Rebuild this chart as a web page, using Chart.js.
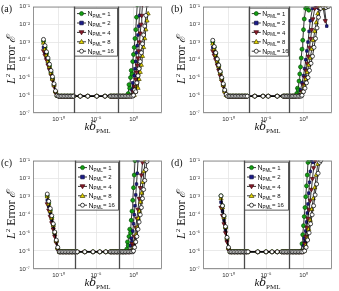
<!DOCTYPE html>
<html>
<head>
<meta charset="utf-8">
<script src="https://cdn.jsdelivr.net/npm/chart.js@4/dist/chart.umd.min.js"></script>
<style>
  body { margin: 0; background: #fff; }
  #wrap { position: relative; width: 339px; height: 291px; }
  canvas { position: absolute; }
</style>
</head>
<body>
<div id="wrap">
  <canvas id="ca" width="170" height="137" style="left:0;top:0"></canvas>
  <canvas id="cb" width="169" height="137" style="left:170px;top:0"></canvas>
  <canvas id="cc" width="170" height="137" style="left:0;top:154px"></canvas>
  <canvas id="cd" width="169" height="137" style="left:170px;top:154px"></canvas>
</div>
<script>
// axes (values are log10 exponents)
const xRangeExp = [-13.4, 3.8];
const yRangeExp = [-7, -1];
const xTickExp = [-10, -5, 0];
const yTickExp = [-7, -6, -5, -4, -3, -2, -1];

// legend / series
const seriesN = ["1", "2", "4", "8", "16"];

// ---- panel (a) ---- (log10 kδ, log10 error), series order N = 1,2,4,8,16
const a_leftX = [-12.0, -11.8, -11.6, -11.4, -11.2, -11.0, -10.8, -10.6, -10.4];
const a_leftY = [
  [-2.95, -3.3, -3.65, -4.0, -4.35, -4.7, -5.05, -5.4, -5.8],
  [-3.3, -3.6, -3.9, -4.2, -4.5, -4.8, -5.1, -5.45, -5.8],
  [-3.5, -3.75, -4.0, -4.3, -4.55, -4.85, -5.15, -5.5, -5.85],
  [-3.05, -3.4, -3.75, -4.1, -4.4, -4.75, -5.1, -5.45, -5.8],
  [-2.85, -3.2, -3.55, -3.9, -4.25, -4.6, -4.95, -5.35, -5.75]
];
const a_plateauX = [-10.2, -10.0, -9.8, -9.6, -9.4, -9.2, -9.0, -8.8,
  -8.6, -8.4, -8.2, -8.0, -7.1, -6.1, -4.9, -3.8,
  -3.1, -2.9, -2.7, -2.5, -2.3, -2.1, -1.9, -1.7,
  -1.5, -1.3, -1.1, -0.9, -0.7, -0.5, -0.3, -0.1];
const a_plateauY = [-6.02, -6.05, -6.05, -6.05, -6.05, -6.05, -6.05, -6.05,
  -6.05, -6.05, -6.05, -6.05, -6.05, -6.05, -6.05, -6.05,
  -6.05, -6.05, -6.05, -6.05, -6.05, -6.05, -6.05, -6.05,
  -6.05, -6.05, -6.05, -6.05, -6.05, -6.05, -6.05, -6.05];
const a_rightX = [
  [-0.7, -0.6, -0.5, -0.4, -0.3, -0.2, -0.1, 0.0, 0.1, 0.2, 0.3, 0.4, 0.5],
  [-0.3, -0.2, -0.1, 0.0, 0.1, 0.2, 0.3, 0.4, 0.5, 0.6, 0.7, 0.8, 0.9],
  [-0.1, 0.0, 0.1, 0.2, 0.3, 0.4, 0.5, 0.6, 0.7, 0.8, 0.9, 1.0, 1.1, 1.2],
  [0.1, 0.3, 0.45, 0.6, 0.75, 0.9, 1.05, 1.2, 1.35, 1.5, 1.65, 1.8, 1.95],
  [0.0, 0.15, 0.3, 0.45, 0.6, 0.75, 0.9, 1.05, 1.2, 1.35, 1.5, 1.65, 1.8]
];
const a_rightY = [
  [-5.9, -5.4, -5.6, -5.0, -4.6, -4.8, -4.1, -3.7, -3.3, -2.8, -2.3, -1.6, -0.9],
  [-6.0, -5.7, -5.3, -5.5, -4.9, -4.5, -4.1, -3.6, -3.2, -2.6, -2.1, -1.5, -0.9],
  [-6.0, -5.8, -5.5, -5.6, -5.1, -4.7, -4.3, -3.9, -3.5, -3.0, -2.5, -2.0, -1.5, -0.9],
  [-6.0, -5.8, -5.5, -5.6, -5.1, -4.7, -4.3, -3.8, -3.3, -2.8, -2.3, -1.8, -1.4],
  [-6.0, -5.7, -5.8, -5.3, -4.9, -4.5, -4.1, -3.6, -3.1, -2.6, -2.1, -1.5, -0.9]
];
const a_vlines = [-7.93, -2.07];

// ---- panel (b) ----
const b_leftX = [-12.1, -11.9, -11.7, -11.5, -11.3, -11.1, -10.9, -10.7, -10.5, -10.3];
const b_leftY = [
  [-3.0, -3.3, -3.65, -4.0, -4.35, -4.7, -5.05, -5.4, -5.75, -5.98],
  [-3.3, -3.55, -3.85, -4.15, -4.5, -4.8, -5.1, -5.45, -5.8, -6.0],
  [-3.5, -3.75, -4.0, -4.3, -4.6, -4.9, -5.2, -5.5, -5.85, -6.0],
  [-3.1, -3.4, -3.75, -4.1, -4.4, -4.75, -5.1, -5.45, -5.8, -6.0],
  [-2.9, -3.25, -3.6, -3.95, -4.3, -4.65, -5.0, -5.35, -5.7, -5.95]
];
const b_plateauX = [-10.1, -9.9, -9.7, -9.5, -9.3, -9.1, -8.9, -8.7,
  -8.5, -8.3, -8.1, -7.9, -7.7, -7.5, -6.5, -5.4,
  -4.7, -3.5, -2.7, -2.5, -2.3, -2.1, -1.9, -1.7,
  -1.5, -1.3, -1.1, -0.9, -0.7, -0.5, -0.3, -0.1];
const b_plateauY = [-6.05, -6.05, -6.05, -6.05, -6.05, -6.05, -6.05, -6.05,
  -6.05, -6.05, -6.05, -6.05, -6.05, -6.05, -6.05, -6.05,
  -6.05, -6.05, -6.05, -6.05, -6.05, -6.05, -6.05, -6.05,
  -6.05, -6.05, -6.05, -6.05, -6.05, -6.05, -6.05, -6.05];
const b_rightX = [
  [-0.9, -0.8, -0.7, -0.6, -0.5, -0.4, -0.3, -0.2, -0.1, 0.0, 0.1, 0.3, 0.5, 0.7],
  [-0.6, -0.4, -0.2, 0.0, 0.15, 0.3, 0.45, 0.6, 0.75, 0.9, 1.2, 1.6, 2.0, 2.4, 2.8, 3.1],
  [-0.4, -0.2, 0.0, 0.2, 0.35, 0.5, 0.65, 0.8, 0.95, 1.1, 1.25, 1.5, 1.8, 2.2, 2.6, 2.9],
  [-0.3, -0.1, 0.1, 0.3, 0.5, 0.7, 0.9, 1.1, 1.3, 1.5, 1.7, 1.9, 2.2, 2.6, 3.0],
  [-0.2, 0.0, 0.2, 0.4, 0.6, 0.8, 1.0, 1.2, 1.4, 1.6, 1.8, 2.0, 2.3, 2.6, 3.0, 3.3]
];
const b_rightY = [
  [-5.9, -5.6, -5.7, -5.2, -4.8, -4.4, -3.9, -3.4, -2.9, -2.3, -1.7, -1.1, -1.0, -1.2],
  [-6.0, -5.7, -5.3, -4.9, -4.5, -4.0, -3.5, -3.0, -2.4, -1.8, -1.1, -1.0, -1.1, -1.0, -1.1, -2.1],
  [-6.0, -5.8, -5.4, -5.0, -4.6, -4.2, -3.8, -3.3, -2.8, -2.3, -1.7, -1.1, -1.0, -1.1, -1.0, -1.8],
  [-6.0, -5.8, -5.5, -5.1, -4.7, -4.3, -3.9, -3.4, -2.9, -2.4, -1.9, -1.4, -1.0, -1.1, -1.0],
  [-6.0, -5.8, -5.6, -5.3, -5.0, -4.6, -4.2, -3.8, -3.3, -2.8, -2.2, -1.6, -1.1, -1.0, -1.05, -1.0]
];
const b_vlines = [-7.3, -1.95];

// ---- panel (c) ----
const c_leftX = [-11.5, -11.3, -11.1, -10.9, -10.7, -10.5, -10.3, -10.1];
const c_leftY = [
  [-2.95, -3.35, -3.75, -4.15, -4.55, -5.0, -5.45, -5.85],
  [-3.2, -3.55, -3.9, -4.3, -4.7, -5.1, -5.5, -5.9],
  [-3.4, -3.75, -4.1, -4.45, -4.8, -5.2, -5.55, -5.9],
  [-3.0, -3.4, -3.8, -4.2, -4.6, -5.0, -5.45, -5.85],
  [-2.85, -3.25, -3.65, -4.05, -4.5, -4.95, -5.4, -5.8]
];
const c_plateauX = [-9.9, -9.7, -9.5, -9.3, -9.1, -8.9, -8.7, -8.5,
  -8.3, -8.1, -7.9, -7.7, -7.5, -6.5, -5.4, -4.5,
  -3.7, -3.1, -2.9, -2.7, -2.5, -2.3, -2.1, -1.9,
  -1.7, -1.5, -1.3, -1.1, -0.9, -0.7, -0.5, -0.3,
  -0.1];
const c_plateauY = [-6.05, -6.05, -6.05, -6.05, -6.05, -6.05, -6.05, -6.05,
  -6.05, -6.05, -6.05, -6.05, -6.05, -6.05, -6.05, -6.05,
  -6.05, -6.05, -6.05, -6.05, -6.05, -6.05, -6.05, -6.05,
  -6.05, -6.05, -6.05, -6.05, -6.05, -6.05, -6.05, -6.05,
  -6.05];
const c_rightX = [
  [-0.9, -0.8, -0.7, -0.6, -0.5, -0.4, -0.3, -0.2, -0.1, 0.0, 0.1, 0.2],
  [-0.5, -0.4, -0.3, -0.2, -0.1, 0.0, 0.1, 0.2, 0.3, 0.4, 0.5, 0.6],
  [-0.3, -0.15, 0.0, 0.15, 0.3, 0.45, 0.6, 0.75, 0.9, 1.05, 1.2],
  [-0.1, 0.05, 0.2, 0.35, 0.5, 0.65, 0.8, 0.95, 1.1, 1.25, 1.4, 1.55],
  [0.0, 0.15, 0.3, 0.45, 0.6, 0.75, 0.9, 1.05, 1.2, 1.35, 1.5, 1.65, 1.8]
];
const c_rightY = [
  [-5.9, -5.5, -5.7, -5.2, -4.8, -5.0, -4.3, -3.8, -3.2, -2.5, -1.8, -1.0],
  [-6.0, -5.7, -5.3, -5.5, -4.9, -4.5, -4.0, -3.5, -2.9, -2.3, -1.7, -1.0],
  [-6.0, -5.6, -5.7, -5.2, -4.7, -4.2, -3.7, -3.1, -2.5, -1.8, -1.1],
  [-6.0, -5.8, -5.5, -5.1, -4.7, -4.2, -3.8, -3.3, -2.8, -2.2, -1.6, -1.0],
  [-6.0, -5.8, -5.5, -5.2, -4.8, -4.4, -4.0, -3.6, -3.1, -2.6, -2.1, -1.5, -1.05]
];
const c_vlines = [-7.8, -1.93];

// ---- panel (d) ----
const d_leftX = [-11.0, -10.8, -10.6, -10.4, -10.2, -10.0];
const d_leftY = [
  [-2.95, -3.5, -4.1, -4.7, -5.3, -5.85],
  [-3.3, -3.8, -4.3, -4.85, -5.4, -5.9],
  [-3.6, -4.05, -4.5, -5.0, -5.5, -5.9],
  [-3.1, -3.6, -4.15, -4.7, -5.3, -5.85],
  [-2.95, -3.5, -4.05, -4.65, -5.25, -5.8]
];
const d_plateauX = [-9.8, -9.6, -9.4, -9.2, -9.0, -8.8, -8.6, -8.4,
  -8.2, -8.0, -7.8, -7.6, -7.4, -6.1, -5.0, -4.2,
  -3.5, -2.9, -2.7, -2.5, -2.3, -2.1, -1.9, -1.7,
  -1.5, -1.3, -1.1, -0.9, -0.7, -0.5, -0.3, -0.1];
const d_plateauY = [-6.05, -6.05, -6.05, -6.05, -6.05, -6.05, -6.05, -6.05,
  -6.05, -6.05, -6.05, -6.05, -6.05, -6.05, -6.05, -6.05,
  -6.05, -6.05, -6.05, -6.05, -6.05, -6.05, -6.05, -6.05,
  -6.05, -6.05, -6.05, -6.05, -6.05, -6.05, -6.05, -6.05];
const d_rightX = [
  [-0.3, -0.2, -0.1, 0.0, 0.1, 0.2, 0.3, 0.4, 0.5, 0.6, 0.8],
  [-0.1, 0.0, 0.1, 0.2, 0.3, 0.4, 0.5, 0.6, 0.7, 0.8, 0.9, 1.1, 1.3],
  [0.0, 0.15, 0.3, 0.45, 0.6, 0.75, 0.9, 1.05, 1.2, 1.35, 1.6],
  [0.1, 0.3, 0.5, 0.7, 0.9, 1.1, 1.3, 1.5, 1.7, 1.9],
  [0.15, 0.35, 0.55, 0.75, 0.95, 1.15, 1.35, 1.55, 1.75, 1.95, 2.15, 2.3]
];
const d_rightY = [
  [-6.0, -5.6, -5.1, -4.6, -4.1, -3.6, -3.0, -2.4, -1.8, -1.1, -1.0],
  [-6.0, -5.7, -5.3, -5.5, -4.9, -4.4, -3.9, -3.4, -2.8, -2.2, -1.6, -1.0, -1.1],
  [-6.0, -5.6, -5.2, -4.7, -4.2, -3.7, -3.2, -2.6, -2.0, -1.4, -1.0],
  [-6.0, -5.7, -5.3, -4.8, -4.3, -3.7, -3.1, -2.5, -1.8, -1.2],
  [-6.0, -5.8, -5.4, -5.0, -4.5, -4.0, -3.5, -2.9, -2.3, -1.7, -1.1, -1.0]
];
const d_vlines = [-7.93, -1.93];

// styles
const markerStyle = ["circle", "rect", "triangle", "triangle", "circle"];
const markerRot = [0, 0, 180, 0, 0];
const markerRadius = [2, 1.8, 2.4, 2.4, 2];
const markerFill = ["#12a012", "#1c1c8c", "#8c1c2c", "#e6d800", "#ffffff"];
const markerEdge = ["#0b4d0b", "#0b0b44", "#44080f", "#4a4500", "#000000"];

const SUP = { "-": "⁻", "0": "⁰", "1": "¹", "2": "²", "3": "³", "4": "⁴", "5": "⁵", "6": "⁶", "7": "⁷", "8": "⁸", "9": "⁹" };
function sup(n) {
  return String(n).split("").map((c) => SUP[c]).join("");
}
function p10(e) {
  return Math.pow(10, e);
}

function buildSeries(leftX, leftY, platX, platY, rx, ry) {
  const pts = [];
  leftX.forEach((v, i) => pts.push({ x: p10(v), y: p10(leftY[i]) }));
  platX.forEach((v, i) => {
    if (v < rx[0]) pts.push({ x: p10(v), y: p10(platY[i]) });
  });
  rx.forEach((v, i) => pts.push({ x: p10(v), y: p10(ry[i]) }));
  return pts;
}

function drawMarker(ctx, i, x, y) {
  const r = markerRadius[i];
  ctx.fillStyle = markerFill[i];
  ctx.strokeStyle = markerEdge[i];
  ctx.lineWidth = 0.7;
  ctx.beginPath();
  if (markerStyle[i] === "circle") {
    ctx.arc(x, y, r, 0, Math.PI * 2);
  } else if (markerStyle[i] === "rect") {
    ctx.rect(x - r, y - r, r * 2, r * 2);
  } else {
    const s = markerRot[i] === 180 ? -1 : 1;
    ctx.moveTo(x, y - s * r);
    ctx.lineTo(x + r, y + s * r * 0.7);
    ctx.lineTo(x - r, y + s * r * 0.7);
    ctx.closePath();
  }
  ctx.fill();
  ctx.stroke();
}

// draws text pieces [{t, font, dy}] centred on cx, baseline at by
function drawPieces(ctx, pieces, cx, by) {
  let total = 0;
  pieces.forEach((p) => { ctx.font = p.font; p.w = ctx.measureText(p.t).width; total += p.w; });
  let x = cx - total / 2;
  ctx.textAlign = "left";
  ctx.textBaseline = "alphabetic";
  pieces.forEach((p) => { ctx.font = p.font; ctx.fillText(p.t, x, by + (p.dy || 0)); x += p.w; });
}

const decoPlugin = {
  id: "panelDeco",
  afterDraw(chart, args, opts) {
    const ctx = chart.ctx;
    const area = chart.chartArea;
    const xs = chart.scales.x;
    ctx.save();
    // frame
    ctx.strokeStyle = "#7a7a7a";
    ctx.lineWidth = 0.8;
    ctx.strokeRect(area.left + 0.5, area.top + 0.5, area.right - area.left - 1, area.bottom - area.top - 1);

    // legend box between the marker lines
    const lx0 = xs.getPixelForValue(p10(opts.vlines[0]));
    const lx1 = xs.getPixelForValue(p10(opts.vlines[1]));
    const ly0 = area.top + 1;
    ctx.fillStyle = "#fff";
    ctx.fillRect(lx0, ly0, lx1 - lx0, 48);
    ctx.strokeStyle = "#333";
    ctx.lineWidth = 0.8;
    ctx.strokeRect(lx0 + 0.5, ly0 + 0.5, lx1 - lx0 - 1, 48);
    seriesN.forEach((n, i) => {
      const yy = ly0 + 6 + i * 9.4;
      ctx.strokeStyle = "#000";
      ctx.lineWidth = 0.8;
      ctx.beginPath();
      ctx.moveTo(lx0 + 3, yy);
      ctx.lineTo(lx0 + 12, yy);
      ctx.stroke();
      drawMarker(ctx, i, lx0 + 7.5, yy);
      ctx.fillStyle = "#111";
      ctx.textAlign = "left";
      ctx.textBaseline = "alphabetic";
      ctx.font = "7px 'Liberation Sans', Arial, sans-serif";
      ctx.fillText("N", lx0 + 13.5, yy + 2.5);
      ctx.font = "4.5px 'Liberation Sans', Arial, sans-serif";
      ctx.fillText("PML", lx0 + 18.5, yy + 4);
      ctx.font = "6px 'Liberation Sans', Arial, sans-serif";
      ctx.fillText("= " + n, lx0 + 28, yy + 2.2);
    });

    // dark vertical lines
    ctx.strokeStyle = "#4a4a4a";
    ctx.lineWidth = 1.3;
    opts.vlines.forEach((v) => {
      const px = Math.round(xs.getPixelForValue(p10(v))) + 0.5;
      ctx.beginPath();
      ctx.moveTo(px, area.top);
      ctx.lineTo(px, area.bottom);
      ctx.stroke();
    });

    // axis titles
    ctx.fillStyle = "#111";
    const serif = "'DejaVu Serif', 'Liberation Serif', serif";
    drawPieces(ctx, [
      { t: "k", font: "italic 11px 'Liberation Serif', serif" },
      { t: "δ", font: "italic 11px " + serif },
      { t: "PML", font: "7px 'Liberation Serif', serif", dy: 2.5 }
    ], (area.left + area.right) / 2, area.bottom + 17);

    ctx.save();
    ctx.translate(15, (area.top + area.bottom) / 2);
    ctx.rotate(-Math.PI / 2);
    drawPieces(ctx, [
      { t: "L", font: "italic 12px 'Liberation Serif', serif" },
      { t: "2", font: "7px 'Liberation Serif', serif", dy: -5 },
      { t: " Error ", font: "12px 'Liberation Serif', serif" },
      { t: "ℰ", font: "italic 12px " + serif }
    ], 0, 0);
    ctx.restore();

    // panel label
    ctx.font = "10px 'Liberation Serif', serif";
    ctx.textAlign = "left";
    ctx.textBaseline = "top";
    ctx.fillText(opts.label, 1, area.top - 2);
    ctx.restore();
  }
};

const panels = [
  { id: "ca", label: "(a)", leftX: a_leftX, leftY: a_leftY, platX: a_plateauX, platY: a_plateauY, rightX: a_rightX, rightY: a_rightY, vlines: a_vlines, bottom: 113, right: 8 },
  { id: "cb", label: "(b)", leftX: b_leftX, leftY: b_leftY, platX: b_plateauX, platY: b_plateauY, rightX: b_rightX, rightY: b_rightY, vlines: b_vlines, bottom: 113, right: 7 },
  { id: "cc", label: "(c)", leftX: c_leftX, leftY: c_leftY, platX: c_plateauX, platY: c_plateauY, rightX: c_rightX, rightY: c_rightY, vlines: c_vlines, bottom: 115, right: 8 },
  { id: "cd", label: "(d)", leftX: d_leftX, leftY: d_leftY, platX: d_plateauX, platY: d_plateauY, rightX: d_rightX, rightY: d_rightY, vlines: d_vlines, bottom: 115, right: 7 }
];

const tickFont = { family: "'Liberation Sans', Arial, sans-serif", size: 6 };

panels.forEach((p) => {
  const canvas = document.getElementById(p.id);
  const datasets = seriesN.map((n, i) => ({
    label: "N_PML = " + n,
    data: buildSeries(p.leftX, p.leftY[i], p.platX, p.platY, p.rightX[i], p.rightY[i]),
    showLine: true,
    borderColor: "#000",
    borderWidth: 0.8,
    pointStyle: markerStyle[i],
    pointRotation: markerRot[i],
    pointRadius: markerRadius[i],
    pointBackgroundColor: markerFill[i],
    pointBorderColor: markerEdge[i],
    pointBorderWidth: 0.7,
    order: i === 4 ? 0 : 5 - i
  }));

  new Chart(canvas, {
    type: "scatter",
    data: { datasets },
    plugins: [decoPlugin],
    options: {
      responsive: false,
      animation: false,
      events: [],
      layout: { padding: { top: 5, right: p.right, left: 0, bottom: 0 } },
      scales: {
        x: {
          type: "logarithmic",
          min: p10(xRangeExp[0]),
          max: p10(xRangeExp[1]),
          afterBuildTicks: (s) => { s.ticks = xTickExp.map((e) => ({ value: p10(e) })); },
          afterFit: (s) => { s.height = canvas.height - p.bottom; },
          ticks: {
            autoSkip: false,
            maxRotation: 0,
            padding: 3,
            color: "#333",
            font: tickFont,
            callback: (v) => "10" + sup(Math.round(Math.log10(v)))
          },
          grid: { color: "#e4e4e4", lineWidth: 0.8, drawTicks: false },
          border: { display: false }
        },
        y: {
          type: "logarithmic",
          min: p10(yRangeExp[0]),
          max: p10(yRangeExp[1]),
          afterBuildTicks: (s) => { s.ticks = yTickExp.map((e) => ({ value: p10(e) })); },
          afterFit: (s) => { s.width = 33; },
          ticks: {
            autoSkip: false,
            padding: 3,
            color: "#333",
            font: tickFont,
            callback: (v) => "10" + sup(Math.round(Math.log10(v)))
          },
          grid: { color: "#e4e4e4", lineWidth: 0.8, drawTicks: false },
          border: { display: false }
        }
      },
      plugins: {
        legend: { display: false },
        tooltip: { enabled: false },
        panelDeco: { label: p.label, vlines: p.vlines }
      }
    }
  });
});
</script>
</body>
</html>
